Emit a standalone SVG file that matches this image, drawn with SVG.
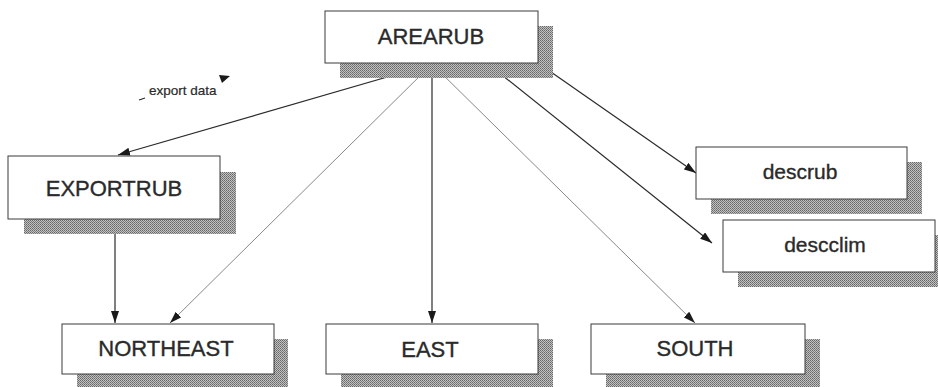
<svg xmlns="http://www.w3.org/2000/svg" width="938" height="387" viewBox="0 0 938 387">
  <defs>
    <pattern id="dots" width="2" height="2" patternUnits="userSpaceOnUse">
      <rect width="2" height="2" fill="#c2c2c2"/>
      <rect width="1" height="1" fill="#666666"/>
      <rect x="1" y="1" width="1" height="1" fill="#7c7c7c"/>
    </pattern>
    <marker id="arr" viewBox="0 0 12 8" refX="12" refY="4" markerWidth="12" markerHeight="8" markerUnits="userSpaceOnUse" orient="auto">
      <path d="M0,0 L12,4 L0,8 Z" fill="#1a1a1a"/>
    </marker>
  </defs>
  <style>
    .shadow { fill: url(#dots); stroke: none; }
    .box { fill: #ffffff; stroke: #3a3a3a; stroke-width: 1; }
    .lbl { font-family: "Liberation Sans", Arial, sans-serif; font-size: 22px; fill: #2a2a2a; stroke: #2a2a2a; stroke-width: 0.35; text-anchor: middle; }
    .lbl2 { font-family: "Liberation Sans", Arial, sans-serif; font-size: 21px; fill: #2a2a2a; stroke: #2a2a2a; stroke-width: 0.35; text-anchor: middle; }
    .dark { stroke: #2a2a2a; stroke-width: 1.2; fill: none; marker-end: url(#arr); }
    .thin { stroke: #6a6a6a; stroke-width: 0.8; fill: none; marker-end: url(#arr); }
    .note { font-family: "Liberation Sans", Arial, sans-serif; font-size: 13.5px; fill: #2a2a2a; stroke: #2a2a2a; stroke-width: 0.2; }
  </style>

  <g id="connectors">
    <line class="dark" x1="432" y1="64" x2="118" y2="155"/>
    <line class="thin" x1="432" y1="64" x2="170" y2="323"/>
    <line class="dark" x1="432" y1="64" x2="432" y2="323"/>
    <line class="thin" x1="432" y1="64" x2="695" y2="323"/>
    <line class="dark" x1="487" y1="63" x2="712" y2="243"/>
    <line class="dark" x1="538" y1="63" x2="696" y2="173"/>
    <line class="dark" x1="115" y1="219" x2="115" y2="323"/>
  </g>

  <g id="export-data-label">
    <line x1="139" y1="100" x2="145" y2="98" stroke="#2a2a2a" stroke-width="1.2"/>
    <text class="note" x="149" y="95">export data</text>
    <polygon points="230,76 219,75 222,83" fill="#1a1a1a"/>
  </g>

  <g id="AREARUB">
    <rect class="shadow" x="340" y="26" width="213" height="52"/>
    <rect class="box" x="325" y="11" width="213" height="52"/>
    <text class="lbl" x="431" y="44">AREARUB</text>
  </g>

  <g id="EXPORTRUB">
    <rect class="shadow" x="24" y="172" width="212" height="62"/>
    <rect class="box" x="8" y="156" width="212" height="63"/>
    <text class="lbl" x="114" y="196">EXPORTRUB</text>
  </g>

  <g id="descrub">
    <rect class="shadow" x="711" y="162" width="211" height="52"/>
    <rect class="box" x="696" y="147" width="211" height="52"/>
    <text class="lbl2" x="800" y="179">descrub</text>
  </g>

  <g id="descclim">
    <rect class="shadow" x="738" y="235" width="212" height="52"/>
    <rect class="box" x="723" y="220" width="212" height="52"/>
    <text class="lbl2" x="825" y="252">descclim</text>
  </g>

  <g id="NORTHEAST">
    <rect class="shadow" x="77" y="339" width="211" height="50"/>
    <rect class="box" x="62" y="324" width="212" height="50"/>
    <text class="lbl" x="166" y="356">NORTHEAST</text>
  </g>

  <g id="EAST">
    <rect class="shadow" x="341" y="339" width="212" height="50"/>
    <rect class="box" x="326" y="324" width="212" height="50"/>
    <text class="lbl" x="430" y="357">EAST</text>
  </g>

  <g id="SOUTH">
    <rect class="shadow" x="606" y="339" width="214" height="50"/>
    <rect class="box" x="591" y="324" width="214" height="50"/>
    <text class="lbl" x="695" y="356">SOUTH</text>
  </g>
</svg>
